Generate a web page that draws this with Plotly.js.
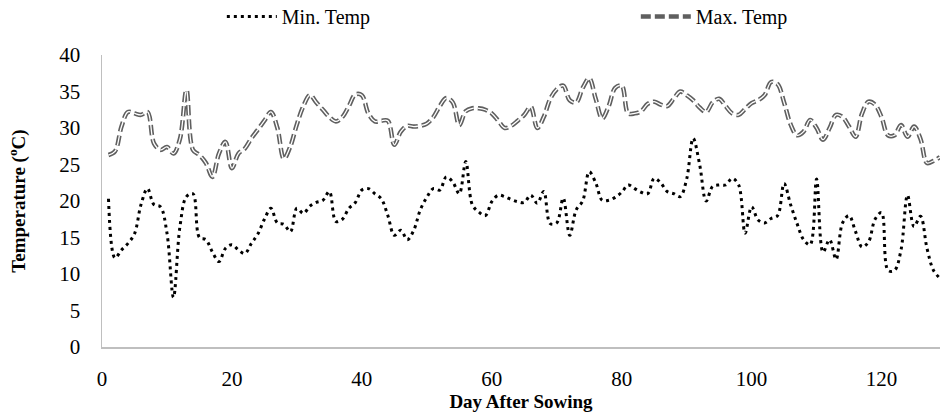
<!DOCTYPE html>
<html>
<head>
<meta charset="utf-8">
<script src="https://cdn.plot.ly/plotly-3.0.1.min.js"></script>
<style>
html,body{margin:0;padding:0;background:#fff;}
#chart{width:941px;height:414px;}
</style>
</head>
<body>
<div id="chart"></div>
<script>
const days = [1,2,3,4,5,6,7,8,9,10,11,12,13,14,15,16,17,18,19,20,
21,22,23,24,25,26,27,28,29,30,31,32,33,34,35,36,37,38,39,40,
41,42,43,44,45,46,47,48,49,50,51,52,53,54,55,56,57,58,59,60,
61,62,63,64,65,66,67,68,69,70,71,72,73,74,75,76,77,78,79,80,
81,82,83,84,85,86,87,88,89,90,91,92,93,94,95,96,97,98,99,100,
101,102,103,104,105,106,107,108,109,110,111,112,113,114,115,116,117,118,119,120,
121,122,123,124,125,126,127,128,129];

const minTemp = [20.3,12.2,13.3,14.2,15.5,19.5,21.7,19.5,19.2,15.6,
6.8,16.5,20.6,21,15,14.7,13,11.7,13.5,14,
13.3,12.8,14.2,15.5,17.5,19,17,16.8,15.8,19,
18.3,19.3,19.8,20.1,21.3,17.2,17.5,19,19.8,21.5,
21.7,21,20.3,18,15.3,16,14.7,16,18.8,20.5,
21.7,21.5,23.3,22.6,21,25.4,19.5,18.5,18,19.9,
20.8,20.6,20.2,19.9,19.8,20.8,19.7,21.3,16.9,17,
20.4,15.3,18.8,20,24,22.5,20.1,20.1,20.5,21.2,
22.2,21.7,21.2,21,23.1,22.5,21.3,21,20.6,23,
28.6,25,20,22,22.2,22.2,23.1,22.2,15.6,19.2,
17.4,17,17.6,18,22.4,19.5,16.9,14.7,14,23,
13,14.7,12,17,18,15.8,13.7,14.4,17.5,18.4,
10.5,10.5,13.3,20.8,16.5,17.9,13.5,10.5,9.4];

const maxTemp = [26.3,26.8,30.2,32.2,32,31.8,32.2,27.9,27,27.4,
26.5,28.5,35.2,27,26.3,25.2,23.3,26.5,28.1,24.5,
26.5,27.2,28.6,29.8,31,32.2,30,25.8,27.5,30.5,
33,34.5,33.5,32.5,31.5,30.9,31.5,33,34.6,34.5,
32,30.9,31,31,27.7,29.5,30.3,30.2,30.3,30.6,
31.5,33,34.1,33.5,30.4,32.3,32.7,32.7,32.5,32,
31,30,30.3,31,31.8,32.9,30,31.5,34,35.3,
35.8,33.8,33.5,35.5,36.8,34,31.3,33,35.5,35.8,
32,32,32.3,33.3,33.6,33.2,33,34,35,34.5,
33.8,32.8,32.2,33.5,34,33,32,31.8,32.6,33.4,
33.8,34.5,36.3,36,33.5,30.5,29,29.5,31.1,30,
28.4,30,31.8,31.5,30.2,28.8,32,33.6,33.2,31.5,
29,29,30.4,28.8,30.2,28.5,25.2,25.5,26];

const xTicks = [0,20,40,60,80,100,120];
const yTicks = [0,5,10,15,20,25,30,35,40];

const serif = 'Liberation Serif';

const traces = [
  {
    x: days, y: minTemp, name: 'Min. Temp', type: 'scatter', mode: 'lines',
    legend: 'legend',
    line: {color: '#000000', width: 3, dash: '3px,4px', shape: 'spline', smoothing: 1}
  },
  {
    x: days, y: maxTemp, name: 'Max. Temp', type: 'scatter', mode: 'lines',
    legend: 'legend2', legendgroup: 'max',
    line: {color: '#5f5f5f', width: 4.5, dash: '10px,4px', shape: 'spline', smoothing: 1}
  },
  {
    x: days, y: maxTemp, name: 'Max. Temp', type: 'scatter', mode: 'lines',
    legend: 'legend2', legendgroup: 'max', showlegend: false, hoverinfo: 'skip',
    line: {color: '#ffffff', width: 1.3, dash: '10px,4px', shape: 'spline', smoothing: 1}
  }
];

const legendCommon = {
  orientation: 'h', xanchor: 'left', y: 1.065, yanchor: 'bottom',
  font: {family: serif, size: 20, color: '#000'},
  bgcolor: 'rgba(0,0,0,0)', itemwidth: 50, tracegroupgap: 0
};

const layout = {
  width: 941, height: 414,
  margin: {l: 102, r: 1, t: 55, b: 67, autoexpand: false},
  paper_bgcolor: '#ffffff', plot_bgcolor: '#ffffff',
  font: {family: serif, size: 21, color: '#000000'},
  showlegend: true,
  legend: Object.assign({}, legendCommon, {x: 0.143}),
  legend2: Object.assign({}, legendCommon, {x: 0.637}),
  xaxis: {
    range: [0, 129], tickvals: xTicks, ticktext: xTicks.map(String),
    showgrid: false, zeroline: false, showline: true, linecolor: '#bfbfbf', linewidth: 1.5,
    ticks: '', ticklabelstandoff: 12,
    tickfont: {family: serif, size: 21, color: '#000'},
    title: {text: '<b>Day After Sowing</b>', font: {family: serif, size: 19, color: '#000'}, standoff: 4}
  },
  yaxis: {
    range: [0, 40], tickvals: yTicks, ticktext: yTicks.map(String),
    showgrid: false, zeroline: false, showline: true, linecolor: '#bfbfbf', linewidth: 1.5,
    ticks: '', ticklabelstandoff: 16,
    tickfont: {family: serif, size: 21, color: '#000'},
    title: {text: '<b>Temperature (<sup>o</sup>C)</b>', font: {family: serif, size: 19, color: '#000'}, standoff: 28}
  }
};

Plotly.newPlot('chart', traces, layout, {displayModeBar: false, staticPlot: true});
</script>
</body>
</html>
